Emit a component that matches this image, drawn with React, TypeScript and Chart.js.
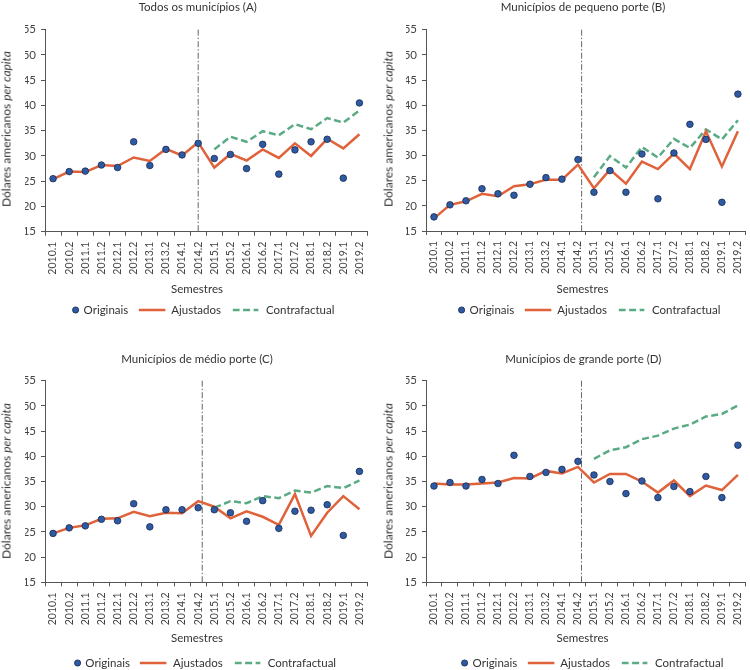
import React, { useEffect, useRef } from "react";
import { Chart, registerables } from "chart.js";

Chart.register(...registerables);

const semesters = [
  "2010.1", "2010.2", "2011.1", "2011.2", "2012.1", "2012.2", "2013.1", "2013.2", "2014.1", "2014.2",
  "2015.1", "2015.2", "2016.1", "2016.2", "2017.1", "2017.2", "2018.1", "2018.2", "2019.1", "2019.2",
];

const yMin = 15;
const yMax = 55;
const yStep = 5;

const N = null;

// (A) Todos os municípios
const originaisA = [25.5, 26.9, 27.0, 28.2, 27.7, 32.8, 28.1, 31.3, 30.2, 32.5, 29.5, 30.3, 27.5, 32.3, 26.4, 31.2, 32.8, 33.3, 25.6, 40.5];
const ajustadosA = [25.4, 26.9, 26.8, 28.2, 28.0, 29.7, 29.0, 31.4, 30.1, 32.7, 27.7, 30.4, 29.1, 31.3, 29.6, 32.5, 30.0, 33.4, 31.5, 34.3];
const contraA = [N, N, N, N, N, N, N, N, N, N, 31.3, 33.8, 32.8, 34.9, 34.1, 36.3, 35.3, 37.5, 36.6, 39.0];

// (B) Municípios de pequeno porte
const originaisB = [17.8, 20.2, 21.0, 23.4, 22.4, 22.1, 24.3, 25.6, 25.3, 29.2, 22.7, 27.0, 22.7, 30.3, 21.4, 30.5, 36.2, 33.2, 20.7, 42.2];
const ajustadosB = [17.5, 20.2, 20.9, 22.4, 21.9, 23.9, 24.3, 25.2, 25.2, 28.2, 23.5, 27.2, 24.4, 28.8, 27.3, 30.4, 27.3, 34.8, 27.8, 34.8];
const contraB = [N, N, N, N, N, N, N, N, N, N, 25.7, 29.9, 27.6, 31.7, 29.6, 33.3, 31.5, 35.2, 33.2, 37.0];

// (C) Municípios de médio porte
const originaisC = [24.7, 25.8, 26.2, 27.5, 27.2, 30.6, 26.0, 29.4, 29.4, 29.8, 29.4, 28.8, 27.1, 31.2, 25.7, 29.1, 29.3, 30.4, 24.3, 37.0];
const ajustadosC = [24.7, 25.8, 26.3, 27.6, 27.7, 29.0, 28.1, 28.8, 28.7, 31.1, 30.0, 27.7, 29.1, 28.0, 26.4, 32.5, 24.2, 28.8, 32.1, 29.5];
const contraC = [N, N, N, N, N, N, N, N, N, N, 29.8, 31.1, 30.7, 32.1, 31.7, 33.2, 32.8, 34.1, 33.7, 35.2];

// (D) Municípios de grande porte
const originaisD = [34.1, 34.8, 34.1, 35.4, 34.6, 40.2, 36.0, 36.8, 37.4, 39.0, 36.3, 35.0, 32.6, 35.1, 31.8, 34.0, 33.0, 36.0, 31.8, 42.2];
const ajustadosD = [34.6, 34.4, 34.4, 34.6, 34.8, 35.7, 35.6, 37.1, 36.6, 37.9, 34.8, 36.5, 36.5, 35.0, 32.8, 35.2, 32.1, 34.2, 33.3, 36.3];
const contraD = [N, N, N, N, N, N, N, N, N, N, 39.5, 41.2, 41.8, 43.4, 44.1, 45.5, 46.3, 47.9, 48.4, 50.1];

// intervention position (category index, fractional)
const cutA = 9.0;
const cutB = 9.23;
const cutC = 9.25;
const cutD = 9.22;

const FONT = "Lato, 'Open Sans', sans-serif";
const TEXT = "#333";
const TICK = "#444";
const AXIS = "#555";
const BLUE = "#2d5aa3";
const BLUE_EDGE = "#1a2b50";
const ORANGE = "#e0623a";
const GREEN = "#5aab84";

const cutPlugin = {
  id: "cut",
  beforeDatasetsDraw(chart: any, _args: any, opts: any) {
    const x = chart.scales.x;
    const px = x.getPixelForValue(opts.at);
    const { top, bottom } = chart.chartArea;
    const ctx = chart.ctx;
    ctx.save();
    ctx.strokeStyle = "#666";
    ctx.lineWidth = 1;
    ctx.setLineDash([6, 2, 1.5, 2]);
    ctx.beginPath();
    ctx.moveTo(px, top);
    ctx.lineTo(px, bottom);
    ctx.stroke();
    ctx.restore();
  },
};

type PanelProps = {
  left: number;
  top: number;
  title: string;
  orig: (number | null)[];
  adj: (number | null)[];
  contra: (number | null)[];
  cut: number;
  pad: { left: number; right: number; top: number; bottom: number };
  titlePos: [number, number];
  yLabelPos: [number, number];
  xLabelPos: [number, number];
  legendPos: [number, number];
};

const W = 375;
const H = 335;

function Legend({ cx, cy }: { cx: number; cy: number }) {
  return (
    <div
      style={{
        position: "absolute",
        left: cx,
        top: cy,
        transform: "translate(-50%,-50%)",
        display: "flex",
        alignItems: "center",
        whiteSpace: "nowrap",
        fontFamily: FONT,
        fontSize: 11.5,
        color: TEXT,
        lineHeight: "14px",
      }}
    >
      <svg width="8" height="8" style={{ display: "block" }}>
        <circle cx="4" cy="4" r="3.1" fill={BLUE} stroke={BLUE_EDGE} strokeWidth="0.8" />
      </svg>
      <span style={{ marginLeft: 4 }}>Originais</span>
      <svg width="27" height="6" style={{ display: "block", marginLeft: 10 }}>
        <line x1="0" y1="3" x2="27" y2="3" stroke={ORANGE} strokeWidth="2.5" />
      </svg>
      <span style={{ marginLeft: 6 }}>Ajustados</span>
      <svg width="26" height="6" style={{ display: "block", marginLeft: 12 }}>
        <line x1="0" y1="3" x2="26" y2="3" stroke={GREEN} strokeWidth="2.5" strokeDasharray="7 3.5" />
      </svg>
      <span style={{ marginLeft: 7 }}>Contrafactual</span>
    </div>
  );
}

function Panel(p: PanelProps) {
  const ref = useRef<HTMLCanvasElement | null>(null);
  useEffect(() => {
    if (!ref.current) return;
    const chart = new Chart(ref.current, {
      type: "line",
      data: {
        labels: semesters,
        datasets: [
          {
            label: "Originais",
            data: p.orig,
            showLine: false,
            pointRadius: 3.3,
            pointHoverRadius: 3.3,
            pointBackgroundColor: BLUE,
            pointBorderColor: BLUE_EDGE,
            pointBorderWidth: 0.8,
            backgroundColor: BLUE,
            borderColor: BLUE_EDGE,
          },
          {
            label: "Ajustados",
            data: p.adj,
            borderColor: ORANGE,
            backgroundColor: ORANGE,
            borderWidth: 2.5,
            pointRadius: 0,
            tension: 0,
            fill: false,
          },
          {
            label: "Contrafactual",
            data: p.contra,
            borderColor: GREEN,
            backgroundColor: GREEN,
            borderWidth: 2.5,
            borderDash: [7, 3.5],
            pointRadius: 0,
            tension: 0,
            fill: false,
            spanGaps: false,
          },
        ],
      },
      options: {
        responsive: false,
        animation: false,
        events: [],
        layout: { padding: p.pad },
        plugins: {
          legend: { display: false },
          title: { display: false },
          tooltip: { enabled: false },
          cut: { at: p.cut },
        } as any,
        scales: {
          x: {
            type: "category",
            offset: true,
            grid: {
              display: true,
              offset: true,
              drawOnChartArea: false,
              drawTicks: true,
              tickLength: 4,
              color: AXIS,
            },
            border: { display: true, color: AXIS, width: 1 },
            ticks: {
              autoSkip: false,
              minRotation: 90,
              maxRotation: 90,
              padding: 6,
              color: TICK,
              font: { family: FONT, size: 10.5 },
            },
            afterFit: (s: any) => {
              s.height = 50;
              s.paddingLeft = 0;
              s.paddingRight = 0;
            },
          },
          y: {
            min: yMin,
            max: yMax,
            grid: {
              display: true,
              drawOnChartArea: false,
              drawTicks: true,
              tickLength: 4,
              color: AXIS,
            },
            border: { display: true, color: AXIS, width: 1 },
            ticks: {
              stepSize: yStep,
              padding: 5,
              color: TICK,
              font: { family: FONT, size: 11.5 },
            },
            afterFit: (s: any) => {
              s.width = 20;
              s.paddingTop = 0;
              s.paddingBottom = 0;
            },
          },
        },
      },
      plugins: [cutPlugin],
    } as any);
    return () => chart.destroy();
  }, []);

  const abs = (x: number, y: number, extra: any = {}): any => ({
    position: "absolute",
    left: x - p.left,
    top: y - p.top,
    transform: "translate(-50%,-50%)",
    whiteSpace: "nowrap",
    fontFamily: FONT,
    color: TEXT,
    ...extra,
  });

  return (
    <div style={{ position: "absolute", left: p.left, top: p.top, width: W, height: H }}>
      <canvas ref={ref} width={W} height={H} style={{ width: W, height: H, display: "block" }} />
      <div style={abs(p.titlePos[0], p.titlePos[1], { fontSize: 11.5 })}>{p.title}</div>
      <div
        style={abs(p.yLabelPos[0], p.yLabelPos[1], {
          fontSize: 12,
          transform: "translate(-50%,-50%) rotate(-90deg)",
        })}
      >
        Dólares americanos <i>per capita</i>
      </div>
      <div style={abs(p.xLabelPos[0], p.xLabelPos[1], { fontSize: 11.5 })}>Semestres</div>
      <Legend cx={p.legendPos[0] - p.left} cy={p.legendPos[1] - p.top} />
    </div>
  );
}

export default function App() {
  return (
    <div style={{ position: "absolute", left: 0, top: 0, width: 750, height: 670, background: "#fff", overflow: "hidden" }}>
      <Panel
        left={0}
        top={0}
        title="Todos os municípios (A)"
        orig={originaisA}
        adj={ajustadosA}
        contra={contraA}
        cut={cutA}
        pad={{ left: 25, right: 7.5, top: 29.7, bottom: 53.3 }}
        titlePos={[197.7, 6]}
        yLabelPos={[6, 129]}
        xLabelPos={[197, 288.3]}
        legendPos={[203, 310]}
      />
      <Panel
        left={375}
        top={0}
        title="Municípios de pequeno porte (B)"
        orig={originaisB}
        adj={ajustadosB}
        contra={contraB}
        cut={cutB}
        pad={{ left: 31, right: 1, top: 29.7, bottom: 54 }}
        titlePos={[583, 6]}
        yLabelPos={[388, 129]}
        xLabelPos={[582.5, 288.3]}
        legendPos={[589, 310]}
      />
      <Panel
        left={0}
        top={335}
        title="Municípios de médio porte (C)"
        orig={originaisC}
        adj={ajustadosC}
        contra={contraC}
        cut={cutC}
        pad={{ left: 25, right: 7.5, top: 45.7, bottom: 37.7 }}
        titlePos={[197, 357.7]}
        yLabelPos={[6, 481]}
        xLabelPos={[197, 637.3]}
        legendPos={[204.7, 663.3]}
      />
      <Panel
        left={375}
        top={335}
        title="Municípios de grande porte (D)"
        orig={originaisD}
        adj={ajustadosD}
        contra={contraD}
        cut={cutD}
        pad={{ left: 31, right: 1, top: 45.7, bottom: 37.7 }}
        titlePos={[583.3, 357.7]}
        yLabelPos={[388, 481]}
        xLabelPos={[582.5, 637.3]}
        legendPos={[592, 663.3]}
      />
    </div>
  );
}
